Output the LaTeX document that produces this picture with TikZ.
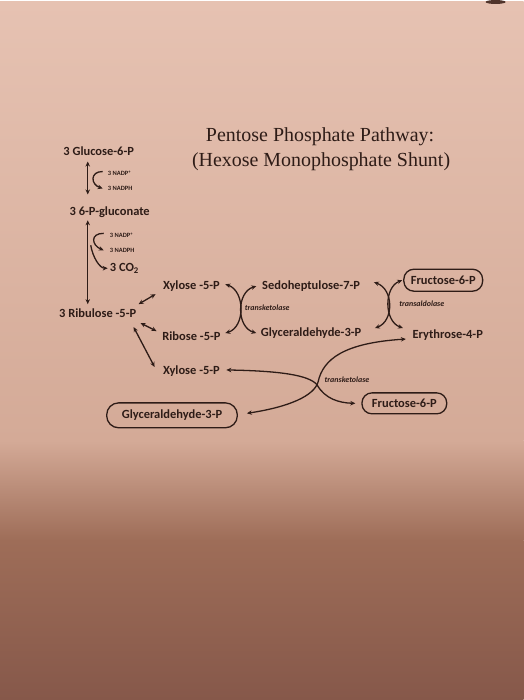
\documentclass[tikz,border=0pt]{standalone}
\usepackage{fontspec}
\setmainfont{Carlito}
\newfontfamily\titlefont{Liberation Serif}
\usetikzlibrary{arrows.meta}
\definecolor{inkc}{HTML}{2E1C17}
\definecolor{papA}{HTML}{E6C2B2}
\definecolor{papB}{HTML}{D4AA97}
\definecolor{papC}{HTML}{9E6D58}
\definecolor{papD}{HTML}{86584A}
\begin{document}
\begin{tikzpicture}[x=1pt,y=-1pt,
  lbl/.style={text=inkc, font=\fontsize{12.5}{14}\selectfont\bfseries, inner sep=1pt},
  tiny/.style={text=inkc, font=\fontsize{6.5}{7}\selectfont\bfseries, inner sep=0pt, anchor=west},
  enz/.style={text=inkc, font=\fontsize{8}{9}\selectfont\bfseries\itshape, inner sep=0pt},
  boxed/.style={lbl, draw=inkc, line width=1.3pt, rounded corners=10pt},
  conn/.style={draw=inkc, line width=1.3pt, -{Stealth[length=5pt,width=4.5pt]}},
  dconn/.style={draw=inkc, line width=1.3pt, {Stealth[length=5pt,width=4.5pt]}-{Stealth[length=5pt,width=4.5pt]}}]
% background paper
\shade[top color=papA, bottom color=papB] (0,0) rectangle (525,440);
\shade[top color=papB, bottom color=papC] (0,440) rectangle (525,540);
\shade[top color=papC, bottom color=papD] (0,540) rectangle (525,700);
\fill[inkc!70!papC] (497,0) ellipse [x radius=10, y radius=2];
\useasboundingbox (0,0) rectangle (525,700);

% title
\node[text=inkc, font=\titlefont\fontsize{20}{22}\selectfont, inner sep=0pt] (t1) at (321,135) {Pentose Phosphate Pathway:};
\node[text=inkc, font=\titlefont\fontsize{20}{22}\selectfont, inner sep=0pt] (t2) at (322,160) {(Hexose Monophosphate Shunt)};

% oxidative branch
\node[lbl] (g6p) at (99,150) {3 Glucose-6-P};
\node[lbl] (gluc) at (110,211) {3 6-P-gluconate};
\node[lbl] (rib) at (98,312) {3 Ribulose -5-P};
\node[tiny] (nadpA) at (108,172) {3 NADP\textsuperscript{+}};
\node[tiny] (nadphA) at (108,187) {3 NADPH};
\node[tiny] (nadpB) at (110,234) {3 NADP\textsuperscript{+}};
\node[tiny] (nadphB) at (110,249) {3 NADPH};
\node[lbl, anchor=west] (co2) at (109,267) {3 CO\textsubscript{2}};

\draw[dconn] ([shift={(-11,10)}]g6p.center) -- ([shift={(-22,-18)}]gluc.center);
\draw[conn] ([shift={(-5,-2)}]nadpA.west) .. controls +(-13,0) and +(-12,-4) .. ([xshift=-5]nadphA.west);
\draw[dconn] ([shift={(-22,8)}]gluc.center) -- ([shift={(-10,-9)}]rib.center);
\draw[conn] ([shift={(-6,-2)}]nadpB.west) .. controls +(-14,0) and +(-12,-5) .. ([xshift=-6]nadphB.west);
\coordinate (br) at ([shift={(-19,-5)}]nadphB.west);
\draw[conn] (br) .. controls +(2,12) and +(-8,0) .. ([xshift=-1]co2.west);

% non-oxidative branch
\node[lbl] (xylA) at (192,285) {Xylose -5-P};
\node[lbl] (ribose) at (192,335) {Ribose -5-P};
\node[lbl] (xylB) at (192,370) {Xylose -5-P};
\node[lbl] (sedo) at (312,285) {Sedoheptulose-7-P};
\node[lbl] (glyA) at (312,332) {Glyceraldehyde-3-P};
\node[boxed, minimum width=79pt, minimum height=22pt] (fruA) at (444.5,279) {Fructose-6-P};
\node[lbl] (ery) at (449,334) {Erythrose-4-P};
\node[boxed, minimum width=85pt, minimum height=21pt] (fruB) at (405.5,402.5) {Fructose-6-P};
\node[boxed, minimum width=131pt, minimum height=25pt, rounded corners=12pt] (glyB) at (172.5,414.5) {Glyceraldehyde-3-P};

\draw[dconn] ([shift={(41,-9)}]rib.center) -- ([shift={(-36,8)}]xylA.center);
\draw[dconn] ([shift={(43,10)}]rib.center) -- ([shift={(-35,-5)}]ribose.center);
\draw[dconn] ([shift={(36,14)}]rib.center) -- ([shift={(-37,-4)}]xylB.center);

% transketolase 1
\draw[dconn] ([shift={(34,-2)}]xylA.center) .. controls (246,290) and (246,326) .. ([shift={(34,-3)}]ribose.center);
\draw[dconn] ([shift={(-55,0)}]sedo.center) .. controls (237,291) and (237,326) .. ([shift={(-55,0)}]glyA.center);
\node[enz] (tk1) at (268,307) {transketolase};

% transaldolase
\draw[dconn] ([shift={(63,-4)}]sedo.center) .. controls (395,288) and (395,320) .. ([shift={(64,-5)}]glyA.center);
\draw[dconn] ([xshift=-1]fruA.west) .. controls (385,286) and (385,320) .. ([shift={(-45,-7)}]ery.center);
\node[enz] (ta) at (423,303) {transaldolase};

% transketolase 2
\coordinate (xA) at (319,381);
\draw[dconn] ([shift={(9,-2)}]glyB.east) .. controls (290,406) and (315,395) .. (xA) .. controls (324,358) and (345,342) .. ([shift={(-42,4)}]ery.center);
\coordinate (xB) at (318,384);
\draw[dconn] ([shift={(35,-1)}]xylB.center) .. controls (280,370) and (310,374) .. (xB) .. controls (326,398) and (340,402) .. ([xshift=-6]fruB.west);
\node[enz] (tk2) at (348,379) {transketolase};
\end{tikzpicture}
\end{document}
